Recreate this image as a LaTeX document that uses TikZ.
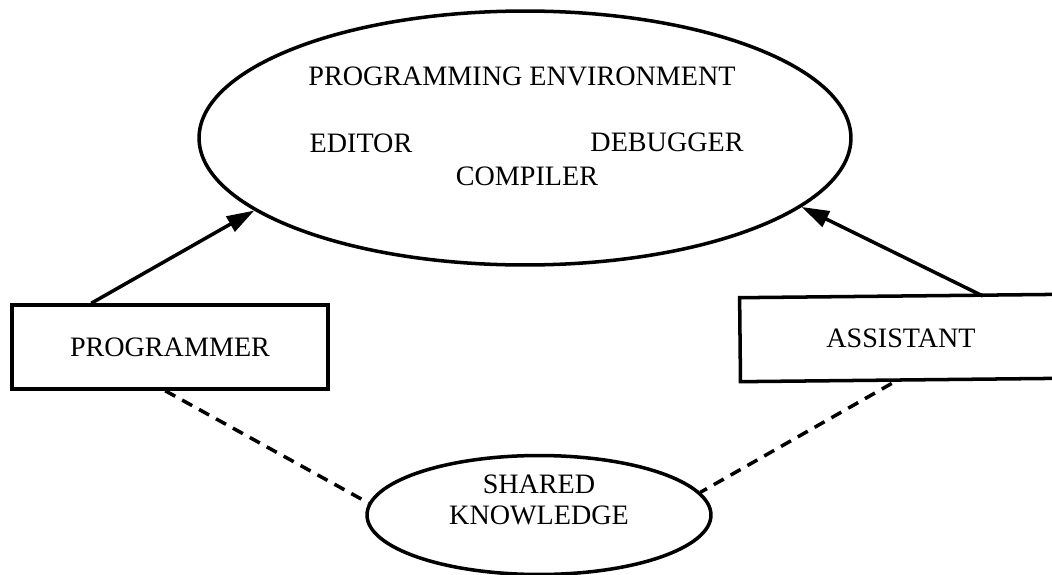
\documentclass[tikz,border=0pt]{standalone}
\usepackage{fontspec}
\setmainfont{Liberation Serif}
\usetikzlibrary{arrows.meta,shapes.geometric}
\begin{document}
\begin{tikzpicture}[x=0.02cm,y=-0.02cm,
  every node/.style={font=\fontsize{16}{17.5}\selectfont, inner sep=0pt},
  oval/.style={draw, ellipse, line width=2pt, inner sep=0pt},
  box/.style={draw, rectangle, line width=2pt, inner sep=0pt},
  arr/.style={line width=2pt, -{Triangle[length=5.5mm,width=3.4mm]}},
  dsh/.style={line width=2pt, dash pattern=on 6.5pt off 4.5pt}]
\useasboundingbox (0,0) rectangle (1052,575);
% programming environment
\node[oval, minimum width=13.04cm, minimum height=5.08cm] (env) at (525,138) {};
\node (title) at (522,76) {PROGRAMMING ENVIRONMENT};
\node (editor) at (361,143) {EDITOR};
\node (debugger) at (667,142) {DEBUGGER};
\node (compiler) at (527,176) {COMPILER};
% actors
\node[box, minimum width=6.32cm, minimum height=1.68cm] (prog) at (170,347) {PROGRAMMER};
\node[box, rotate=0.6, minimum width=6.44cm, minimum height=1.68cm] (asst) at (901,338) {};
\node (assttxt) at (901,338) {ASSISTANT};
% shared knowledge
\node[oval, minimum width=6.88cm, minimum height=2.38cm] (shared) at (539,515) {};
\node[align=center] (sharedtxt) at (539,500) {SHARED\\KNOWLEDGE};
% connectors
\draw[arr] ([xshift=1.62cm]prog.north west) -- (env.195);
\draw[arr] ([xshift=4.9cm]asst.north west) -- (env.346.7);
\draw[dsh] ([xshift=3.1cm]prog.south west) -- (shared.176.4);
\draw[dsh] ([xshift=3.06cm]asst.south west) -- (shared.8.5);
\end{tikzpicture}
\end{document}
